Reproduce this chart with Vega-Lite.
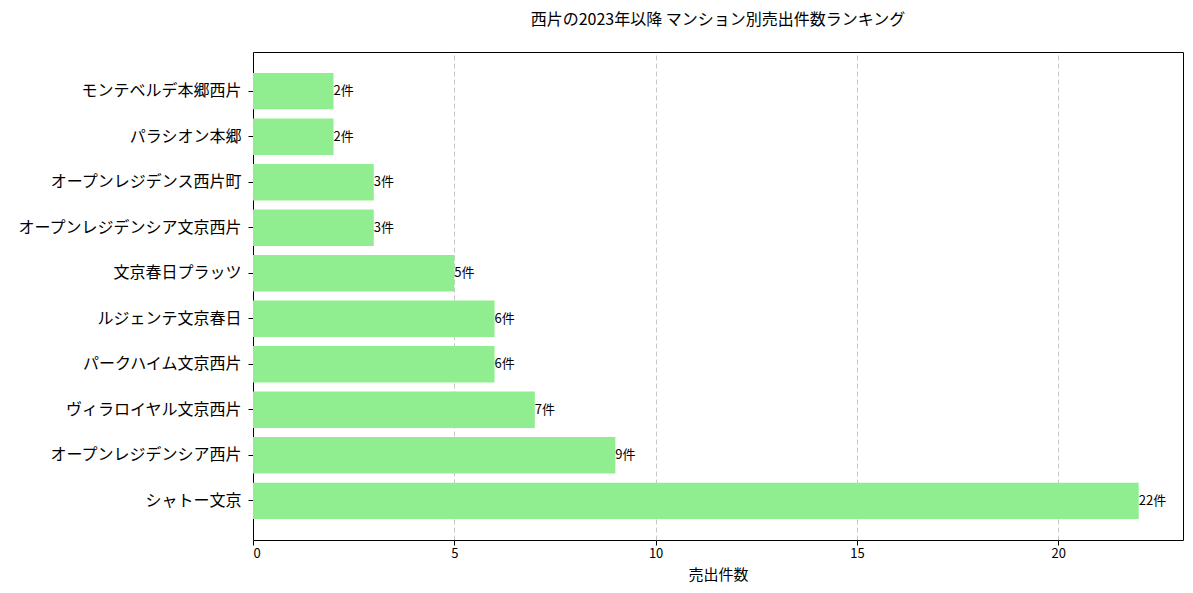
{
  "$schema": "https://vega.github.io/schema/vega-lite/v6.json",
  "width": 930,
  "height": 488,
  "autosize": {"type": "none"},
  "padding": {"left": 253, "top": 52, "right": 10, "bottom": 53},
  "title": {
    "text": "西片の2023年以降 マンション別売出件数ランキング",
    "fontSize": 16,
    "fontWeight": "normal",
    "font": "Noto Sans CJK JP",
    "color": "#000000",
    "offset": 24
  },
  "data": {
    "values": [
      {"name": "モンテベルデ本郷西片", "n": 2},
      {"name": "パラシオン本郷", "n": 2},
      {"name": "オープンレジデンス西片町", "n": 3},
      {"name": "オープンレジデンシア文京西片", "n": 3},
      {"name": "文京春日プラッツ", "n": 5},
      {"name": "ルジェンテ文京春日", "n": 6},
      {"name": "パークハイム文京西片", "n": 6},
      {"name": "ヴィラロイヤル文京西片", "n": 7},
      {"name": "オープンレジデンシア西片", "n": 9},
      {"name": "シャトー文京", "n": 22}
    ]
  },
  "transform": [{"calculate": "datum.n + '件'", "as": "label"}],
  "encoding": {
    "y": {
      "field": "name",
      "type": "nominal",
      "sort": null,
      "title": null,
      "scale": {"paddingInner": 0.2, "paddingOuter": 0.46},
      "axis": {
        "labelFontSize": 16,
        "labelColor": "#000000",
        "labelLimit": 0,
        "labelPadding": 7,
        "tickColor": "#000000",
        "tickSize": 5,
        "domain": false,
        "grid": false
      }
    },
    "x": {
      "field": "n",
      "type": "quantitative",
      "title": "売出件数",
      "scale": {"domain": [0, 23.1], "nice": false, "zero": true},
      "axis": {
        "values": [0, 5, 10, 15, 20],
        "labelFontSize": 13,
        "labelColor": "#000000",
        "titleFontSize": 15,
        "titleFontWeight": "normal",
        "titleColor": "#000000",
        "titlePadding": 7,
        "tickColor": "#000000",
        "tickSize": 5,
        "domain": false,
        "grid": true,
        "gridColor": "#b0b0b0",
        "gridDash": [5, 3],
        "gridOpacity": {"condition": {"test": "datum.value === 0", "value": 0}, "value": 0.7}
      }
    }
  },
  "layer": [
    {"mark": {"type": "bar", "color": "#90EE90"}},
    {
      "mark": {"type": "text", "align": "left", "baseline": "middle", "fontSize": 13, "color": "#000000", "dx": 0},
      "encoding": {"text": {"field": "label"}}
    }
  ],
  "config": {
    "font": "Noto Sans CJK JP",
    "view": {"stroke": "#000000", "strokeWidth": 1},
    "background": "#ffffff"
  }
}
